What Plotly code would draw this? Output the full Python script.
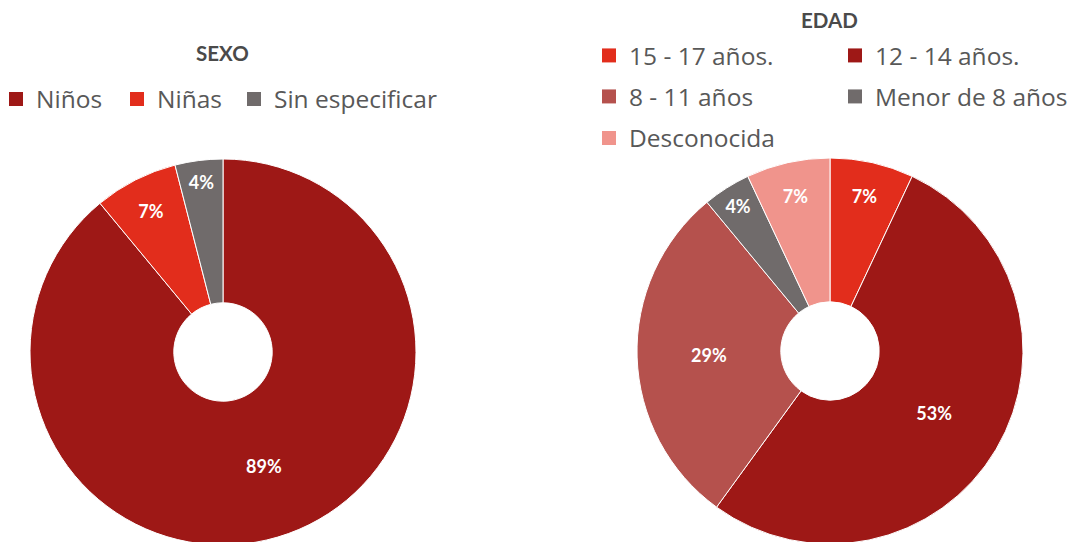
import plotly.graph_objects as go

# ---------------- data ----------------
sexo_title = "SEXO"
sexo_labels = ["Niños", "Niñas", "Sin especificar"]
sexo_values = [89, 7, 4]
sexo_colors = ["#9E1816", "#E22D1C", "#706B6B"]

edad_title = "EDAD"
edad_labels = ["15 - 17 años.", "12 - 14 años.", "8 - 11 años", "Menor de 8 años", "Desconocida"]
edad_values = [7, 53, 29, 4, 7]
edad_colors = ["#E22D1C", "#9E1816", "#B5514D", "#706B6B", "#F0948C"]

# ---------------- layout helpers ----------------
W, H = 1075, 542
OFF = 8  # the page body adds an 8px margin; positions below are given in window pixels
TXT = "#585858"
FONT = "Lato"
LEG_FONT = dict(family="Open Sans", size=24.5, color=TXT)


def px_x(x):
    return (x - OFF) / W


def px_y(y):
    return 1 - (y - OFF) / H


def dom(cx, cy, r):
    return dict(x=[px_x(cx - r), px_x(cx + r)], y=[max(0, px_y(cy + r)), min(1, px_y(cy - r))])


R = 193
fig = go.Figure()

pie_common = dict(
    sort=False,
    direction="clockwise",
    rotation=0,
    hole=0.255,
    textinfo="percent",
    texttemplate="%{percent:.0%}",
    textposition="inside",
    insidetextorientation="horizontal",
    textfont=dict(family=FONT, size=18, color="white", weight="bold"),
    hoverinfo="label+percent",
    showlegend=False,
)

fig.add_trace(go.Pie(
    labels=sexo_labels, values=sexo_values,
    marker=dict(colors=sexo_colors, line=dict(color="white", width=1)),
    domain=dom(223, 352, R),
    **pie_common,
))

fig.add_trace(go.Pie(
    labels=edad_labels, values=edad_values,
    marker=dict(colors=edad_colors, line=dict(color="white", width=1)),
    domain=dom(830, 351, R),
    **pie_common,
))


def legend_entry(label, color, legend, width):
    return go.Scatter(
        x=[None], y=[None], mode="markers", name=label,
        marker=dict(symbol="square", size=14, color=color),
        legend=legend, legendwidth=width, hoverinfo="skip",
    )


# SEXO legend: one row
sexo_widths = [88, 84, 200]
for lab, col, w in zip(sexo_labels, sexo_colors, sexo_widths):
    fig.add_trace(legend_entry(lab, col, "legend", w))

# EDAD legend: rows of two
rows = [edad_labels[0:2], edad_labels[2:4], edad_labels[4:5]]
row_legends = ["legend2", "legend3", "legend4"]
for lg, row in zip(row_legends, rows):
    for j, lab in enumerate(row):
        c = edad_colors[edad_labels.index(lab)]
        fig.add_trace(legend_entry(lab, c, lg, 201 if j == 0 else 200))


def leg(x_px, top_px, indent=0):
    return dict(orientation="h", x=px_x(x_px), xanchor="left", y=px_y(top_px), yanchor="top",
                entrywidthmode="pixels", font=LEG_FONT, bgcolor="rgba(0,0,0,0)",
                indentation=indent, borderwidth=0, itemclick=False, itemdoubleclick=False)


layout_legends = {"legend": leg(8, 76.5, indent=-12)}
for lg, top in zip(row_legends, [33, 74, 115.5]):
    layout_legends[lg] = leg(589, top)

title_font = dict(family=FONT, size=20.5, color="#4a4a4a", weight="bold")

fig.update_layout(
    width=W, height=H,
    margin=dict(l=0, r=0, t=0, b=0, pad=0, autoexpand=False),
    paper_bgcolor="white", plot_bgcolor="white",
    xaxis=dict(visible=False), yaxis=dict(visible=False),
    uniformtext=dict(minsize=18, mode="show"),
    annotations=[
        dict(text=sexo_title, x=px_x(222), y=px_y(53), xref="paper", yref="paper",
             xanchor="center", yanchor="middle", showarrow=False, font=title_font),
        dict(text=edad_title, x=px_x(829), y=px_y(20), xref="paper", yref="paper",
             xanchor="center", yanchor="middle", showarrow=False, font=title_font),
    ],
    **layout_legends,
)

fig.write_html("out.html")
